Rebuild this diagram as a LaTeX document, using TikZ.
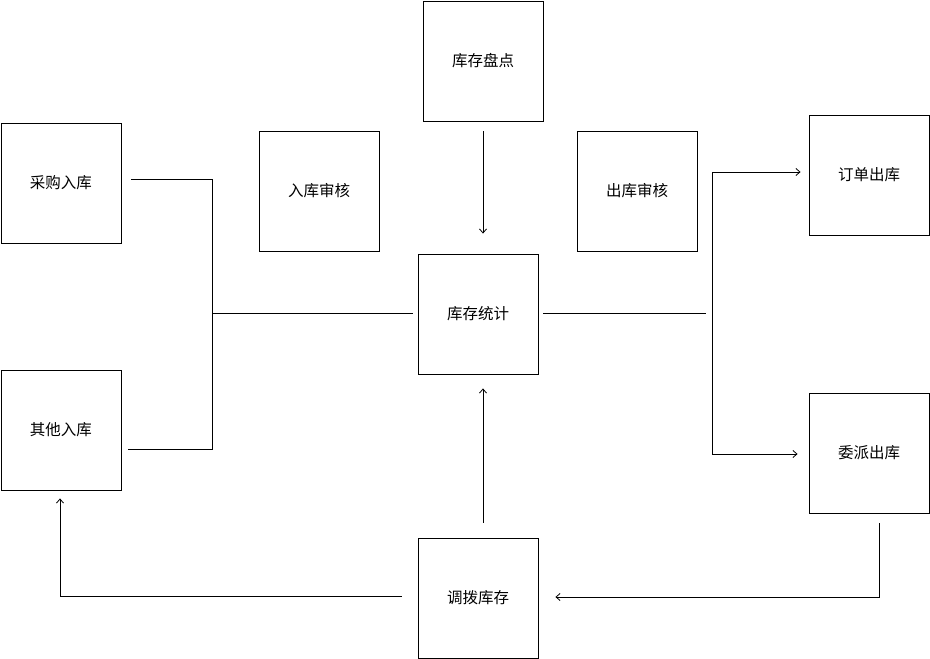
\documentclass[tikz,border=0pt]{standalone}
\usepackage{fontspec}
\newfontfamily\cjk{Noto Sans CJK SC}
\usetikzlibrary{arrows.meta,calc}
\newcommand\boxlbl[1]{\raisebox{-2pt}{#1}}
\begin{document}
\begin{tikzpicture}[x=1pt,y=-1pt,
  box/.style={draw, line width=0.9pt, minimum width=120pt, minimum height=120pt, inner sep=0pt, font=\cjk\fontsize{15.5pt}{17pt}\selectfont},
  conn/.style={line width=0.9pt},
  arr/.style={conn,-{Straight Barb[length=4pt,width=7pt,line width=0.8pt]}}]
\useasboundingbox[fill=white] (0,0) rectangle (930,659);
\node[box] (pd) at (483,61) {\boxlbl{库存盘点}};
\node[box] (cg) at (61,183) {\boxlbl{采购入库}};
\node[box] (rs) at (319,191) {\boxlbl{入库审核}};
\node[box] (cs) at (637,191) {\boxlbl{出库审核}};
\node[box] (dd) at (869,175) {\boxlbl{订单出库}};
\node[box] (tj) at (478,314) {\boxlbl{库存统计}};
\node[box] (qt) at (61,430) {\boxlbl{其他入库}};
\node[box] (wp) at (869,453) {\boxlbl{委派出库}};
\node[box] (db) at (478,598) {\boxlbl{调拨库存}};
% bus coordinates
\coordinate (lb1) at (212.5,179);
\coordinate (lb2) at (212.5,449);
\coordinate (lbm) at (212.5,313);
\coordinate (rb1) at (712,172);
\coordinate (rb2) at (712,454);
\coordinate (rbm) at (706,313);
\coordinate (wpd) at (879,597);
\coordinate (dbl) at (60,596);
% left inputs
\draw[conn] ($(cg.east)+(10,-4)$) -- (lb1) -- (lb2) -- ($(qt.east)+(7,19)$);
\draw[conn] (lbm) -- ($(tj.west)+(-5,-1)$);
% right outputs
\draw[conn] ($(tj.east)+(5,-1)$) -- (rbm);
\draw[arr] (rb2) -- (rb1) -- ($(dd.west)+(-8,-3)$);
\draw[arr] (rb2) -- ($(wp.west)+(-11,1)$);
% top
\draw[arr] ($(pd.south)+(0,10)$) -- ($(tj.north)+(5,-20)$);
% bottom up
\draw[arr] ($(db.north)+(5,-15)$) -- ($(tj.south)+(5,14)$);
% 委派 -> 调拨
\draw[arr] ($(wp.south)+(10,10)$) -- (wpd) -- ($(db.east)+(17,-1)$);
% 调拨 -> 其他
\draw[arr] ($(db.west)+(-16,-2)$) -- (dbl) -- ($(qt.south)+(-1,8)$);
\end{tikzpicture}
\end{document}
